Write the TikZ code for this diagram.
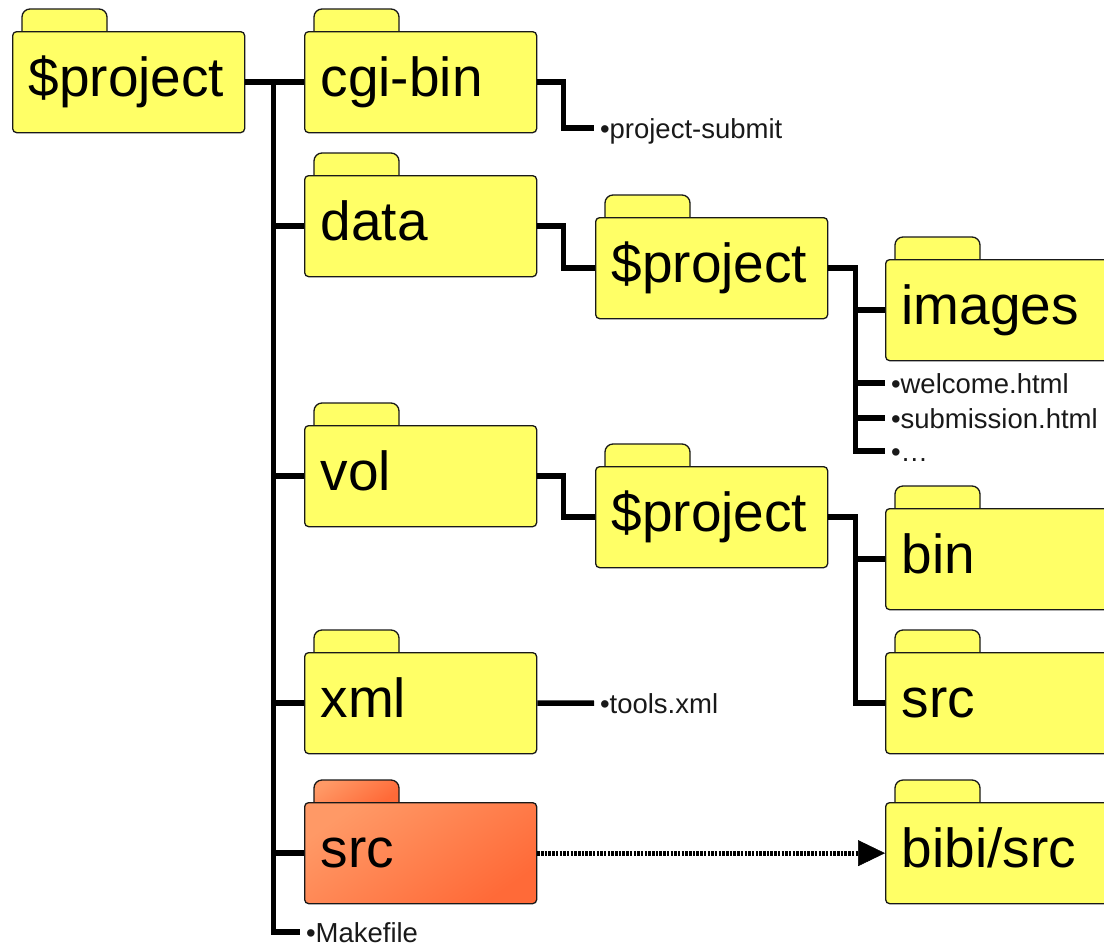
\documentclass[tikz,border=0pt]{standalone}
\usepackage{fontspec}
\setmainfont{Liberation Sans}
\usetikzlibrary{arrows.meta,calc}
\definecolor{fyellow}{HTML}{FFFF66}
\definecolor{forangeA}{HTML}{FF9966}
\definecolor{forangeM}{HTML}{FF9461}
\definecolor{forangeB}{HTML}{FF6A38}
\newcommand\mkfolder[5]{%
  \path[tabshape,#4] (#2+10,#3) -- (#2+10,#3-22) -- (#2+95,#3-22) -- (#2+95,#3);
  \node[folderbox,#4] (#1) at (#2,#3) {#5};
}
\begin{document}
\begin{tikzpicture}[x=1pt,y=-1pt,
  folderbox/.style={draw=black!90, line width=1.3pt, rounded corners=4pt,
    minimum height=101pt, inner xsep=16pt, inner ysep=0pt, text width=200pt,
    align=left, text height=40pt, text depth=11pt,
    font=\fontsize{55}{60}\selectfont, anchor=north west},
  tabshape/.style={draw=black!90, line width=1.3pt, rounded corners=8pt},
  yellowfill/.style={fill=fyellow},
  orangefill/.style={top color=forangeA, middle color=forangeM, bottom color=forangeB, shading angle=35},
  leaf/.style={inner xsep=0pt, inner ysep=0pt, outer xsep=6pt, outer ysep=0pt,
    text height=20pt, text depth=0pt, font=\fontsize{27.5}{30}\selectfont,
    text=black!90, anchor=west},
  conn/.style={line width=5.5pt, draw=black},
  dotarrow/.style={line width=5pt, draw=black, dash pattern=on 2.5pt off 1.2pt,
    -{Triangle[length=27pt,width=26pt,line width=0.5pt]}},
]
\useasboundingbox (0,0) rectangle (1104,946);
\clip (0,0) rectangle (1104,946);

% folders
\mkfolder{root}{12}{31}{yellowfill}{\$project}
\mkfolder{cgi}{304}{31}{yellowfill}{cgi-bin}
\mkfolder{data}{304}{175}{yellowfill}{data}
\mkfolder{ptwo}{595}{217}{yellowfill}{\$project}
\mkfolder{images}{885}{259}{yellowfill}{images}
\mkfolder{vol}{304}{425}{yellowfill}{vol}
\mkfolder{pthree}{595}{466}{yellowfill}{\$project}
\mkfolder{bin}{885}{508}{yellowfill}{bin}
\mkfolder{srcb}{885}{652}{yellowfill}{src}
\mkfolder{xml}{304}{652}{yellowfill}{xml}
\mkfolder{srca}{304}{802}{orangefill}{src}
\mkfolder{bibi}{885}{802}{yellowfill}{bibi/src}

% leaf files
\node[leaf] (ps) at (594,128) {•project-submit};
\node[leaf] (wel) at (885,383) {•welcome.html};
\node[leaf] (sub) at (885,418) {•submission.html};
\node[leaf] (dots) at (885,451) {•…};
\node[leaf] (tools) at (594,703) {•tools.xml};
\node[leaf] (mk) at (300,932) {•Makefile};

% trunk
\coordinate (tr) at ($(root.east)+(28,0)$);
\draw[conn] (root.east) -- (cgi.west);
\draw[conn] (tr) |- (data.west);
\draw[conn] (tr) |- (vol.west);
\draw[conn] (tr) |- (xml.west);
\draw[conn] (tr) |- (srca.west);
\draw[conn] (tr) |- (mk.west);

% cgi-bin
\draw[conn] (cgi.east) -- ++(26,0) |- (ps.west);
% data
\draw[conn] (data.east) -- ++(26,0) |- (ptwo.west);
\coordinate (btwo) at ($(ptwo.east)+(27,0)$);
\draw[conn] (ptwo.east) -- (btwo) |- (images.west);
\draw[conn] (btwo) |- (wel.west);
\draw[conn] (btwo) |- (sub.west);
\draw[conn] (btwo) |- (dots.west);
% vol
\draw[conn] (vol.east) -- ++(26,0) |- (pthree.west);
\coordinate (bthree) at ($(pthree.east)+(27,0)$);
\draw[conn] (pthree.east) -- (bthree) |- (bin.west);
\draw[conn] (bthree) |- (srcb.west);
% xml
\draw[conn] (xml.east) -- (tools.west);
% src link
\draw[dotarrow] (srca.east) -- (bibi.west);
\end{tikzpicture}
\end{document}
